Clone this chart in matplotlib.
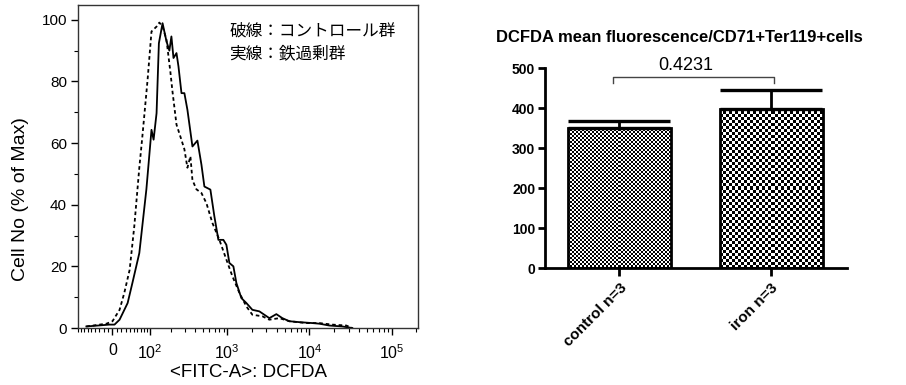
import numpy as np
import matplotlib
matplotlib.use('Agg')
import matplotlib.pyplot as plt
from matplotlib.ticker import FixedLocator, NullFormatter

plt.rcParams['font.family'] = ['Liberation Sans', 'Noto Sans CJK JP', 'DejaVu Sans']
plt.rcParams['mathtext.default'] = 'regular'

# ヒストグラム（実線：鉄過剰群）
solid_x = [-64, -7, 4.5, 16, 35, 47, 66, 88, 106, 114, 126, 136, 153, 173, 189, 201, 214,
           234, 248, 271, 295, 322, 372, 429, 481, 523, 620, 694, 777, 894, 973, 1059,
           1185, 1289, 1483, 1707, 2020, 2456, 2826, 3251, 3956, 4680, 5692, 7532,
           10844, 13192, 17456, 25128, 33248]
solid_y = [0.5, 1.1, 1.1, 2.7, 8.1, 14.6, 24.3, 45, 64.3, 61.1, 69.7, 92.4, 98.9, 93,
           90, 94.6, 87.6, 89.2, 84.9, 76.2, 76.2, 70.8, 58.9, 60.8, 53, 45.9, 44.9,
           36.2, 28.6, 28.6, 27.0, 21.1, 20.0, 14.6, 9.7, 8.1, 5.9, 5.4, 4.3, 3.2, 4.5,
           3.2, 2.2, 1.9, 1.6, 1.4, 0.8, 0.5, 0]

# ヒストグラム（破線：コントロール群）
dashed_x = [-64, -13.5, 0, 16, 27, 40, 52, 66, 75, 92, 106, 126, 138, 153, 173, 195,
            207, 234, 271, 295, 322, 351, 372, 417, 481, 554, 656, 799, 973, 1152,
            1403, 1707, 2020, 2672, 3251, 4302, 5692, 9168, 13192, 18992, 28104, 33248]
dashed_y = [0.5, 1.4, 2.2, 5.9, 11.4, 18.9, 33.0, 52, 62, 80.5, 96.2, 97.8, 99.1, 97.8,
            93.5, 83, 77, 66, 61, 58, 52, 55.7, 48, 45, 43.8, 40.5, 34.1, 28.6, 22.2,
            16.8, 11.4, 7.0, 4.3, 3.8, 2.7, 3.2, 2.2, 1.6, 1.6, 1.1, 0.8, 0]

# 棒グラフ
groups = ['control n=3', 'iron n=3']
means = [352, 398]
sems = [16, 47]
p_value = '0.4231'

fig = plt.figure(figsize=(9.06, 3.85), dpi=100)

# ---- 左：ヒストグラム ----
ax1 = fig.add_axes([78/906, 57/385, 340/906, 323/385])
ax1.set_xscale('asinh', linear_width=80)
ax1.plot(dashed_x, dashed_y, color='black', lw=1.3, linestyle=(0, (2, 1.6)))
ax1.plot(solid_x, solid_y, color='black', lw=1.3)
ax1.set_xlim(-90, 210000)
ax1.set_ylim(0, 104.8)

major_x = [0, 1e2, 1e3, 1e4, 1e5]
minor_x = [v for v in range(-90, 100, 10) if v != 0]
minor_x += [m * 10**k for k in range(2, 6) for m in range(2, 10) if m * 10**k < 210000]
ax1.xaxis.set_major_locator(FixedLocator(major_x))
ax1.xaxis.set_minor_locator(FixedLocator(minor_x))
ax1.set_xticklabels(['0', '$10^2$', '$10^3$', '$10^4$', '$10^5$'], fontsize=11.5)
ax1.xaxis.set_minor_formatter(NullFormatter())
ax1.set_yticks([0, 20, 40, 60, 80, 100])
ax1.set_yticks(range(10, 100, 20), minor=True)
ax1.tick_params(axis='both', which='major', length=5, width=1, labelsize=11, pad=3)
ax1.tick_params(axis='both', which='minor', length=3, width=0.8)
ax1.tick_params(axis='x', which='major', labelsize=11.5, pad=6)
for s in ax1.spines.values():
    s.set_linewidth(1)
    s.set_color('#333333')
ax1.set_ylabel('Cell No (% of Max)', fontsize=14)
ax1.yaxis.set_label_coords(-0.143, 0.40)
ax1.set_xlabel('<FITC-A>: DCFDA', fontsize=13.5)
ax1.xaxis.set_label_coords(0.5, -0.112)

ax1.text(0.445, 0.92, '破線：コントロール群', transform=ax1.transAxes, fontsize=12,
         family=['Noto Sans CJK JP'], va='center', ha='left')
ax1.text(0.445, 0.848, '実線：鉄過剰群', transform=ax1.transAxes, fontsize=12,
         family=['Noto Sans CJK JP'], va='center', ha='left')

# ---- 右：棒グラフ ----
ax2 = fig.add_axes([545/906, 116.7/385, 302/906, 200/385])
xpos = np.arange(len(groups))
ax2.set_xlim(-0.49, 1.5)
ax2.set_ylim(0, 500)
bars = ax2.bar(xpos, means, width=0.68, facecolor='none', edgecolor='black',
               linewidth=2, zorder=3)

# チェック柄
for bar, cell in zip(bars, [2, 3]):
    x0, y0 = bar.get_x(), bar.get_y()
    w, h = bar.get_width(), bar.get_height()
    (px0, py0), (px1, py1) = ax2.transData.transform([(x0, y0), (x0 + w, y0 + h)])
    nx, ny = int(round(px1 - px0)), int(round(py1 - py0))
    jj, ii = np.meshgrid(np.arange(nx), np.arange(ny))
    checker = (ii // cell + jj // cell) % 2
    im = ax2.imshow(checker, cmap='gray', extent=(x0, x0 + w, y0, y0 + h),
                    aspect='auto', interpolation='nearest', zorder=1)
    im.set_clip_path(bar)
ax2.set_xlim(-0.49, 1.5)
ax2.set_ylim(0, 500)

ax2.errorbar(xpos, means, yerr=[np.zeros(len(means)), sems], fmt='none',
             ecolor='black', elinewidth=2, capsize=37, capthick=2.4, zorder=2)

ax2.spines['top'].set_visible(False)
ax2.spines['right'].set_visible(False)
ax2.spines['left'].set_linewidth(2)
ax2.spines['bottom'].set_linewidth(2)
ax2.set_yticks([0, 100, 200, 300, 400, 500])
ax2.set_xticks(xpos)
ax2.set_xticklabels(groups, rotation=45, ha='right', rotation_mode='anchor',
                    fontsize=11, fontweight='bold')
for lab in ax2.get_yticklabels():
    lab.set_fontweight('bold')
ax2.tick_params(axis='y', length=5, width=2, labelsize=10, pad=2)
ax2.tick_params(axis='x', length=6, width=2, pad=3)

# 有意差の括弧
yb = 479
ax2.plot([-0.04, -0.04, 1.02, 1.02], [yb - 16, yb, yb, yb - 16], color='#444444',
         lw=1, clip_on=False)
ax2.text(0.44, yb + 8, p_value, ha='center', va='bottom', fontsize=13)

fig.text(679 / 906, 1 - 38 / 385, 'DCFDA mean fluorescence/CD71+Ter119+cells',
         ha='center', va='center', fontsize=12, fontweight='bold')

fig.savefig('out.png', dpi=100)
